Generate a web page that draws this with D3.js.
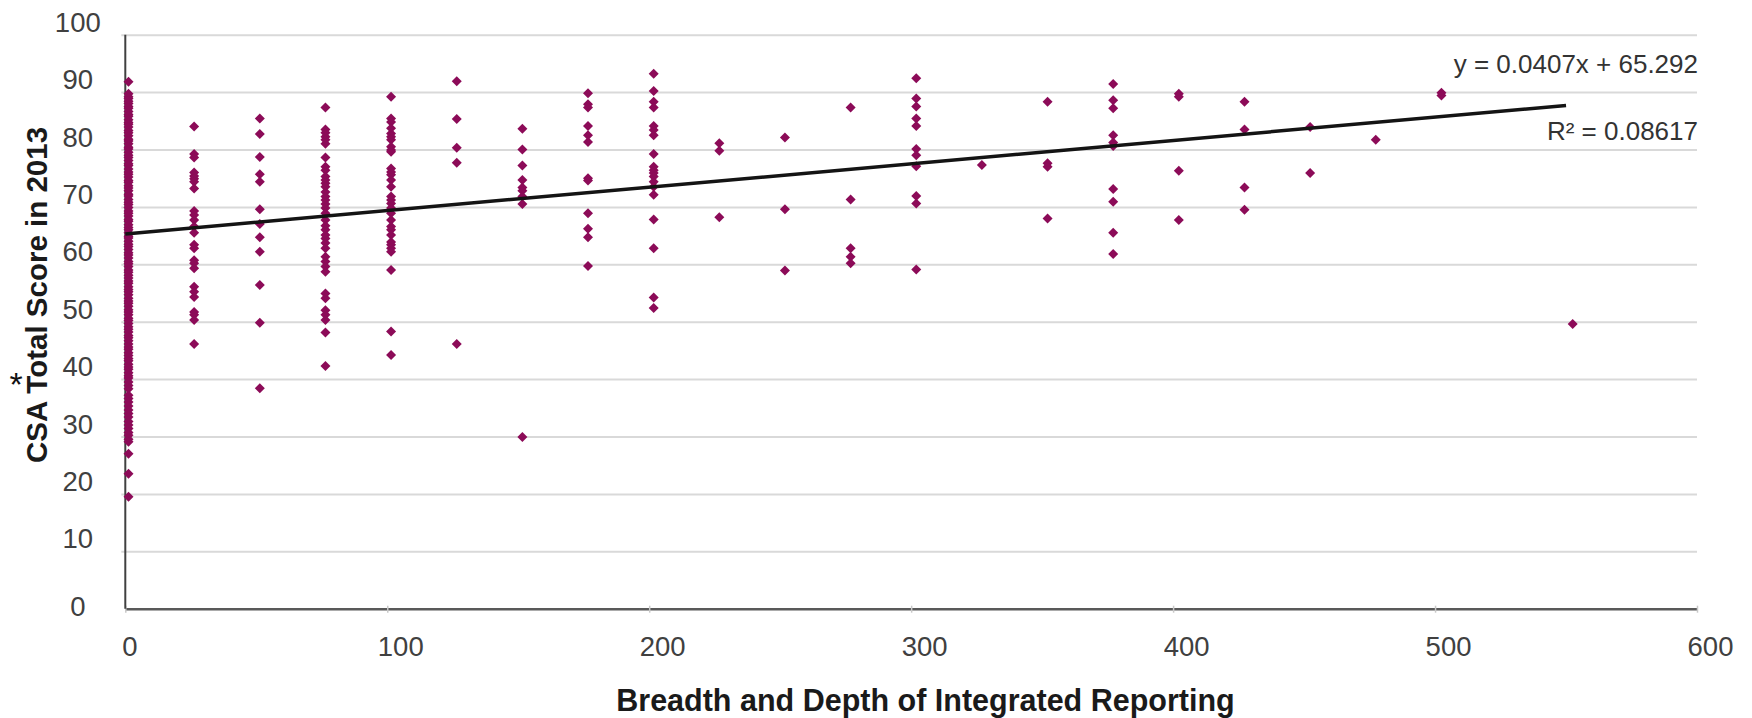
<!DOCTYPE html>
<html><head><meta charset="utf-8">
<script src="https://cdn.jsdelivr.net/npm/d3@7"></script>
<style>
html,body{margin:0;padding:0;background:#fff;}
svg{display:block;font-family:"Liberation Sans",Arial,Helvetica,sans-serif;}
</style>
</head><body>
<svg id="c" width="1752" height="718"></svg>
<script>
// ---- data ----
const xTicks = [0, 100, 200, 300, 400, 500, 600];
const yTicks = [0, 10, 20, 30, 40, 50, 60, 70, 80, 90, 100];
const xTitle = "Breadth and Depth of Integrated Reporting";
const yTitle = "CSA Total Score in 2013";
const slope = 0.0407;
const intercept = 65.292;
const rSquared = "0.08617";
const trendRange = [0, 550];

const breadth = [0, 25, 50, 75, 100, 125, 150, 175, 200, 225, 250, 275, 300, 325, 350, 375, 400, 425, 450, 475, 500, 550];

const s0 = [91.8, 89.7, 89.2, 88.9, 88.4, 88.0, 87.5, 87.2, 86.6, 86.1, 85.8, 85.2, 84.7, 84.4, 83.9, 83.3, 82.9, 82.4, 81.8, 81.5, 81.0, 80.4, 80.1, 79.5, 79.0, 78.6, 78.1, 77.5, 77.2, 76.6, 76.1, 75.7, 75.2, 74.6, 74.3, 73.7, 73.3, 72.8, 72.2, 71.9, 71.3, 70.8, 70.4, 69.9, 69.3, 68.9, 68.4, 67.8, 67.5, 66.9, 66.4, 66.0, 65.5, 64.9, 64.6, 64.0, 63.5, 63.1, 62.6, 62.0, 61.6, 61.1, 60.5, 60.1, 59.6, 59.0, 58.6, 58.1, 57.6, 57.1, 56.7, 56.1, 55.6, 55.2, 54.7, 54.1, 53.6, 53.2, 52.7, 52.1, 51.7, 51.2, 50.6, 50.2, 49.7, 49.1, 48.7, 48.2, 47.6, 47.2, 46.7, 46.1, 45.6, 45.2, 44.6, 44.1, 43.6, 43.2, 42.6, 42.1, 41.7, 41.1, 40.6, 40.2, 39.5, 38.9, 38.3, 37.2, 36.6, 36.0, 35.3, 34.6, 34.0, 33.4, 32.6, 32.0, 31.4, 30.7, 30.2, 29.5, 29.1, 27.0, 23.5, 19.5];
const s25 = [84.0, 79.2, 78.6, 76.0, 75.4, 74.9, 74.4, 73.2, 69.3, 68.6, 67.7, 66.6, 65.5, 63.4, 62.8, 60.7, 60.2, 59.3, 56.1, 55.2, 54.3, 51.7, 51.2, 50.3, 46.1];
const s50 = [85.4, 82.7, 78.7, 75.7, 74.4, 69.6, 67.0, 64.7, 62.2, 56.4, 49.8, 38.4];
const s75 = [87.3, 83.5, 82.9, 82.2, 81.7, 81.0, 78.6, 77.0, 76.4, 75.3, 74.7, 74.1, 73.5, 72.6, 71.8, 71.2, 70.5, 69.8, 68.9, 67.7, 66.7, 66.0, 65.1, 64.5, 63.7, 62.8, 61.3, 60.5, 59.6, 58.7, 54.9, 54.1, 52.0, 51.2, 50.3, 48.1, 42.3];
const s100 = [89.2, 85.4, 84.8, 83.7, 82.8, 82.2, 81.7, 80.5, 79.9, 79.6, 76.7, 76.1, 75.6, 74.7, 73.5, 71.8, 71.2, 70.6, 69.8, 68.9, 67.7, 66.6, 66.0, 65.1, 63.9, 63.4, 62.8, 62.2, 59.0, 48.3, 44.2];
const s125 = [91.9, 85.3, 80.3, 77.7, 46.1];
const s150 = [83.6, 80.0, 77.2, 74.7, 73.4, 72.8, 71.8, 70.5, 29.9];
const s175 = [89.8, 87.9, 87.3, 84.1, 82.5, 81.3, 75.0, 74.6, 68.9, 66.2, 64.7, 59.7];
const s200 = [93.2, 90.2, 88.3, 87.3, 84.1, 83.4, 82.5, 79.2, 77.0, 76.4, 75.9, 75.3, 74.4, 73.5, 72.1, 67.8, 62.8, 54.2, 52.4];
const s225 = [81.1, 79.8, 68.2];
const s250 = [82.1, 69.6, 58.9];
const s275 = [87.3, 71.3, 62.8, 61.3, 60.2];
const s300 = [92.4, 88.9, 87.5, 85.4, 84.1, 80.1, 79.0, 77.1, 71.9, 70.6, 59.1];
const s325 = [77.3];
const s350 = [88.3, 77.6, 77.0, 68.0];
const s375 = [91.4, 88.6, 87.2, 82.5, 81.2, 80.6, 73.1, 70.9, 65.5, 61.8];
const s400 = [89.7, 89.2, 76.3, 67.7];
const s425 = [88.3, 83.5, 73.4, 69.5];
const s450 = [83.9, 75.9];
const s475 = [81.7];
const s500 = [89.9, 89.4];
const s550 = [49.6];

const scoreColumns = [s0, s25, s50, s75, s100, s125, s150, s175, s200, s225, s250, s275, s300, s325, s350, s375, s400, s425, s450, s475, s500, s550];

// build point table
const points = [];
breadth.forEach((bx, i) => scoreColumns[i].forEach(v => points.push({x: bx, y: v})));

// ---- drawing ----
const svg = d3.select('#c');
const L = 125.3, R = 1697, T = 34.7, B = 608.7;
const x = d3.scaleLinear().domain([0, 600]).range([L, R]);
const xPts = d3.scaleLinear().domain([0, 600]).range([128.5, 1704]);
const y = d3.scaleLinear().domain([0, 100]).range([B, T]);

// horizontal gridlines
const grid = svg.append('g').attr('transform', `translate(${L},0)`)
  .call(d3.axisLeft(y).tickValues(yTicks.filter(d => d > 0)).tickSize(-(R - L)).tickSizeOuter(0).tickFormat(''));
grid.select('.domain').remove();
grid.selectAll('.tick line').attr('stroke', '#d9d9d9').attr('stroke-width', 2).attr('x1', -4);

// y axis labels
const yAx = svg.append('g').attr('transform', `translate(${L},0)`)
  .call(d3.axisLeft(y).tickValues(yTicks).tickSize(0).tickFormat(d3.format('d')));
yAx.select('.domain').remove();
yAx.selectAll('.tick text')
  .attr('x', -47.5).attr('text-anchor', 'middle')
  .attr('dy', '0.35em')
  .attr('y', d => d === 0 ? -3 : -13)
  .attr('fill', '#404040').style('font-size', '27.5px')
  .style('font-family', '"Liberation Sans",Arial,sans-serif');

// x axis
const xAx = svg.append('g').attr('transform', `translate(0,${B})`)
  .call(d3.axisBottom(x).tickValues(xTicks).tickSize(4).tickSizeOuter(0).tickFormat(d3.format('d')));
xAx.select('.domain').attr('stroke', '#595959').attr('stroke-width', 2.5);
xAx.selectAll('.tick line').attr('stroke', '#c8c8c8').attr('stroke-width', 1.5).attr('y1', -3);
xAx.selectAll('.tick text')
  .attr('x', d => d === 0 ? 4 : 13).attr('y', 47.5).attr('dy', 0)
  .attr('fill', '#404040').style('font-size', '27.5px')
  .style('font-family', '"Liberation Sans",Arial,sans-serif');

// y axis line
svg.append('line').attr('x1', L).attr('x2', L).attr('y1', T).attr('y2', B)
  .attr('stroke', '#404040').attr('stroke-width', 2);

// points
const diamond = d3.symbol().type(d3.symbolSquare).size(50);
svg.append('g').selectAll('path').data(points).join('path')
  .attr('d', diamond)
  .attr('transform', d => `translate(${xPts(d.x)},${y(d.y)}) rotate(45)`)
  .attr('fill', '#8c0b58');

// trendline
const trend = trendRange.map(v => ({x: v, y: intercept + slope * v}));
svg.append('path').datum(trend)
  .attr('d', d3.line().x(d => x(d.x)).y(d => y(d.y)))
  .attr('stroke', '#141414').attr('stroke-width', 3.5).attr('fill', 'none');

// equation labels
svg.append('text').attr('x', 1698).attr('y', 72.5).attr('text-anchor', 'end')
  .attr('fill', '#333').style('font-size', '26px')
  .text(`y = ${slope}x + ${intercept}`);
svg.append('text').attr('x', 1698).attr('y', 139.5).attr('text-anchor', 'end')
  .attr('fill', '#333').style('font-size', '26px')
  .text(`R² = ${rSquared}`);

// axis titles
svg.append('text').attr('x', 925.5).attr('y', 711).attr('text-anchor', 'middle')
  .attr('fill', '#1a1a1a').style('font-size', '30.5px').style('font-weight', 'bold')
  .text(xTitle);
svg.append('text').attr('transform', 'translate(47,295) rotate(-90)').attr('text-anchor', 'middle')
  .attr('fill', '#1a1a1a').style('font-size', '29.5px').style('font-weight', 'bold')
  .text(yTitle);
svg.append('text').attr('x', 16).attr('y', 396).attr('text-anchor', 'middle')
  .attr('fill', '#111').style('font-size', '34px')
  .text('*');
</script>
</body></html>
